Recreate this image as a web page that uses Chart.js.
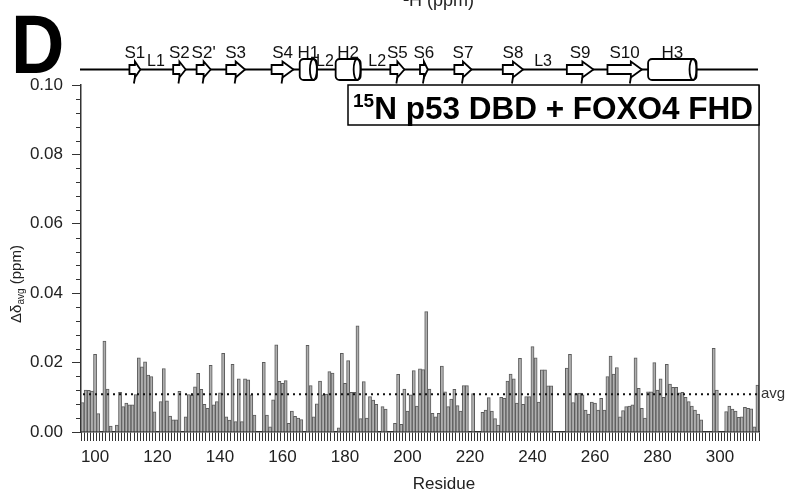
<!DOCTYPE html>
<html>
<head>
<meta charset="utf-8">
<title>15N p53 DBD + FOXO4 FHD</title>
<script src="https://cdn.jsdelivr.net/npm/chart.js@4.4.1/dist/chart.umd.min.js"></script>
<style>
  html, body { margin: 0; padding: 0; background: #fff; }
  canvas { display: block; }
</style>
</head>
<body>
<canvas id="cspChart" width="788" height="498"></canvas>
<script>
// Residue range shown on the x axis
const firstResidue = 96;
const lastResidue = 312;
const tickResidues = [100, 120, 140, 160, 180, 200, 220, 240, 260, 280, 300];

// Averaged chemical shift change per residue (ppm), null = no data
const shiftValues = [
  0.0085, 0.0121, 0.0120, 0.0118, 0.0224, 0.0053, null, 0.0262, 0.0124, 0.0017,   // 96-105
  null, 0.0020, 0.0114, 0.0073, 0.0083, 0.0078, 0.0078, 0.0108, 0.0214, 0.0188,   // 106-115
  0.0202, 0.0164, 0.0160, 0.0058, null, 0.0088, 0.0183, 0.0090, 0.0046, 0.0035,   // 116-125
  0.0035, 0.0117, null, 0.0044, 0.0108, 0.0106, 0.0130, 0.0169, 0.0123, 0.0080,   // 126-135
  0.0068, 0.0192, 0.0078, 0.0088, 0.0113, 0.0227, 0.0044, 0.0034, 0.0195, 0.0030,   // 136-145
  0.0153, 0.0030, 0.0153, 0.0150, 0.0107, 0.0049,                                   // 146-151
  null, null, 0.0201, 0.0049, 0.0015, 0.0093, 0.0251, 0.0146, 0.0140, 0.0148,       // 152-161
  0.0025, 0.0060, 0.0045, 0.0040, 0.0036, null,                                     // 162-167
  0.0250, 0.0134, 0.0044, 0.0081, 0.0147, 0.0107, 0.0109, 0.0174, 0.0170, null,     // 168-177
  0.0012, 0.0227, 0.0140, 0.0206, 0.0114, 0.0114, 0.0306, 0.0039, 0.0145, 0.0040,   // 178-187
  0.0102, 0.0092, 0.0080, null, 0.0073, 0.0066, null, null,                         // 188-195
  0.0025, 0.0166, 0.0022, 0.0124, 0.0060, 0.0107, 0.0177, 0.0075, 0.0182, 0.0180,   // 196-205
  0.0347, 0.0124, 0.0054, 0.0044, 0.0054, 0.0190, 0.0116, 0.0073, 0.0095, 0.0123,   // 206-215
  0.0076, 0.0060, 0.0134, 0.0134, null, 0.0111, null, null,                         // 216-223
  0.0057, 0.0063, 0.0099, 0.0060, 0.0039, 0.0020, 0.0100, 0.0097, 0.0147, 0.0167,   // 224-233
  0.0153, 0.0083, 0.0212, 0.0080, 0.0102, 0.0102, 0.0246, 0.0214, 0.0086, 0.0179,   // 234-243
  0.0179, 0.0133, 0.0133, null, null, null, null,                                   // 244-250
  0.0184, 0.0224, 0.0085, 0.0111, 0.0112, 0.0107, 0.0063, 0.0052, 0.0086, 0.0083,   // 251-260
  0.0063, 0.0097, 0.0063, 0.0160, 0.0219, 0.0167, 0.0186, 0.0044, 0.0062, 0.0073,   // 261-270
  0.0075, 0.0078, 0.0214, 0.0126, 0.0068, 0.0040, 0.0116, 0.0116, 0.0200, 0.0121,   // 271-280
  0.0153, 0.0100, 0.0195, 0.0138, 0.0129, 0.0129, 0.0113, 0.0114, 0.0100, 0.0088,   // 281-290
  0.0075, 0.0063, 0.0052, 0.0035, null, null, null, 0.0241, 0.0121, null,           // 291-300
  null, 0.0059, 0.0075, 0.0066, 0.0060, 0.0042, 0.0044, 0.0071, 0.0068, 0.0067,     // 301-310
  0.0015, 0.0135                                                                    // 311-312
];
const avgShift = 0.0109;

// Secondary structure of the DBD (residue spans)
const strands = [
  ['S1', 111, 114.5], ['S2', 125, 129], ["S2'", 132.5, 137], ['S3', 142, 148],
  ['S4', 156.5, 163.5], ['S5', 194.5, 199], ['S6', 204, 206.5], ['S7', 215, 220.5],
  ['S8', 230.5, 237], ['S9', 251, 259.5], ['S10', 264, 275]
];
const helices = [['H1', 165.5, 171], ['H2', 177, 185], ['H3', 277, 292.5]];
const loops = [['L1', 119.5], ['L2', 173.6], ['L2', 190.3], ['L3', 243.4]];

const residues = [];
for (let r = firstResidue; r <= lastResidue; r++) residues.push(r);

const FONT = "'Liberation Sans', Arial, sans-serif";
Chart.defaults.font.family = FONT;

function resX(chart, r) {
  return chart.scales.x.getPixelForValue(r - firstResidue);
}

function drawStrand(ctx, x1, x2, y) {
  const head = Math.min(11, (x2 - x1) * 0.5);
  const bh = 4.5, hh = 8;
  ctx.beginPath();
  ctx.moveTo(x1, y - bh);
  ctx.lineTo(x2 - head, y - bh);
  ctx.lineTo(x2 - head, y - hh);
  ctx.lineTo(x2, y);
  ctx.lineTo(x2 - head, y + hh);
  ctx.lineTo(x2 - head, y + bh);
  ctx.lineTo(x1, y + bh);
  ctx.closePath();
  ctx.fill();
  ctx.stroke();
  // back edge of the head runs down past the arrow
  ctx.beginPath();
  ctx.moveTo(x2 - head, y + hh);
  ctx.lineTo(x2 - head - 1, y + 14);
  ctx.stroke();
}

function drawHelix(ctx, x1, x2, y) {
  const h = 21, er = 3.5;
  ctx.beginPath();
  ctx.roundRect(x1, y - h / 2, x2 - x1, h, 4);
  ctx.fill();
  ctx.stroke();
  ctx.beginPath();
  ctx.ellipse(x2 - er, y, er, h / 2, 0, 0, Math.PI * 2);
  ctx.stroke();
}

const panelDecor = {
  id: 'panelDecor',
  beforeDraw(chart) {
    const ctx = chart.ctx;
    ctx.save();
    ctx.fillStyle = '#fff';
    ctx.fillRect(0, 0, chart.width, chart.height);
    ctx.restore();
  },
  afterDatasetsDraw(chart) {
    const { ctx, chartArea } = chart;
    const y = chart.scales.y.getPixelForValue(avgShift);
    ctx.save();
    ctx.strokeStyle = '#111';
    ctx.lineWidth = 2;
    ctx.setLineDash([2, 4]);
    ctx.beginPath();
    ctx.moveTo(chartArea.left + 2, y);
    ctx.lineTo(chartArea.right, y);
    ctx.stroke();
    ctx.restore();
  },
  afterDraw(chart) {
    const { ctx, chartArea } = chart;
    const yScale = chart.scales.y;
    ctx.save();

    // minor y ticks
    ctx.strokeStyle = '#333';
    ctx.lineWidth = 1;
    for (let i = 1; i < 25; i++) {
      if (i % 5 === 0) continue;
      const y = Math.round(yScale.getPixelForValue(i * 0.004)) + 0.5;
      ctx.beginPath();
      ctx.moveTo(chartArea.left - 5, y);
      ctx.lineTo(chartArea.left, y);
      ctx.stroke();
    }

    // right frame
    ctx.lineWidth = 1.5;
    ctx.beginPath();
    ctx.moveTo(chartArea.right, chartArea.top);
    ctx.lineTo(chartArea.right, chartArea.bottom);
    ctx.stroke();

    // avg label
    ctx.fillStyle = '#333';
    ctx.font = '15px ' + FONT;
    ctx.textAlign = 'left';
    ctx.textBaseline = 'alphabetic';
    ctx.fillText('avg', chartArea.right + 2, yScale.getPixelForValue(avgShift) + 4);

    // axis titles
    ctx.fillStyle = '#222';
    ctx.font = '17px ' + FONT;
    ctx.textAlign = 'center';
    ctx.fillText('Residue', 444, 489);

    ctx.save();
    ctx.translate(21, 284);
    ctx.rotate(-Math.PI / 2);
    ctx.textAlign = 'left';
    const p1 = '\u0394\u03b4', p3 = ' (ppm)';
    ctx.font = '15px ' + FONT;
    const w1 = ctx.measureText(p1).width, w3 = ctx.measureText(p3).width;
    ctx.font = '10px ' + FONT;
    const w2 = ctx.measureText('avg').width;
    const x0 = -(w1 + w2 + w3) / 2;
    ctx.font = '15px ' + FONT;
    ctx.fillText(p1, x0, 0);
    ctx.font = '10px ' + FONT;
    ctx.fillText('avg', x0 + w1, 3);
    ctx.font = '15px ' + FONT;
    ctx.fillText(p3, x0 + w1 + w2, 0);
    ctx.restore();

    // panel letter
    ctx.save();
    ctx.fillStyle = '#000';
    ctx.font = 'bold 84px ' + FONT;
    ctx.textAlign = 'left';
    ctx.translate(11, 73);
    ctx.scale(0.88, 1);
    ctx.fillText('D', 0, 0);
    ctx.restore();

    // cut-off axis title of the panel above
    ctx.fillStyle = '#222';
    ctx.font = '18px ' + FONT;
    ctx.textAlign = 'left';
    ctx.fillText('\u00b9H (ppm)', 403, 6);

    // title box
    const bx = 348, by = chartArea.top, bw = chartArea.right - 348, bh = 40;
    ctx.fillStyle = '#fff';
    ctx.fillRect(bx, by, bw, bh);
    ctx.strokeStyle = '#000';
    ctx.lineWidth = 1.5;
    ctx.strokeRect(bx, by, bw, bh);
    ctx.fillStyle = '#000';
    ctx.font = 'bold 19px ' + FONT;
    const supW = ctx.measureText('15').width;
    ctx.fillText('15', bx + 5, by + 22);
    ctx.font = 'bold 31.5px ' + FONT;
    ctx.fillText('N p53 DBD + FOXO4 FHD', bx + 5 + supW, by + 34);

    // secondary structure track
    const sy = 69.5;
    ctx.strokeStyle = '#000';
    ctx.lineWidth = 2;
    ctx.beginPath();
    ctx.moveTo(chartArea.left - 1, sy);
    ctx.lineTo(chartArea.right - 1, sy);
    ctx.stroke();
    ctx.fillStyle = '#fff';
    ctx.lineWidth = 1.8;
    strands.forEach(s => drawStrand(ctx, resX(chart, s[1]), resX(chart, s[2]), sy));
    helices.forEach(h => drawHelix(ctx, resX(chart, h[1]), resX(chart, h[2]), sy));

    ctx.fillStyle = '#111';
    ctx.textAlign = 'center';
    ctx.font = '17px ' + FONT;
    strands.concat(helices).forEach(e => {
      ctx.fillText(e[0], (resX(chart, e[1]) + resX(chart, e[2])) / 2, 58);
    });
    ctx.font = '16px ' + FONT;
    loops.forEach(l => ctx.fillText(l[0], resX(chart, l[1]), 66));

    ctx.restore();
  }
};

new Chart(document.getElementById('cspChart'), {
  type: 'bar',
  data: {
    labels: residues,
    datasets: [{
      data: shiftValues,
      backgroundColor: '#afafaf',
      borderColor: '#5c5c5c',
      borderWidth: 1,
      barPercentage: 1,
      categoryPercentage: 1
    }]
  },
  options: {
    responsive: false,
    animation: false,
    devicePixelRatio: 1,
    layout: { padding: { top: 85, right: 29, left: 0, bottom: 0 } },
    plugins: { legend: { display: false }, tooltip: { enabled: false } },
    scales: {
      x: {
        grid: { drawOnChartArea: false, tickLength: 9, color: '#333', lineWidth: 1 },
        border: { color: '#333', width: 1.5 },
        ticks: {
          autoSkip: false, maxRotation: 0, minRotation: 0, padding: 6,
          color: '#222', font: { size: 17 },
          callback: (v, i) => tickResidues.includes(residues[i]) ? String(residues[i]) : ''
        },
        afterFit: s => { s.height = 66; }
      },
      y: {
        min: 0, max: 0.1,
        grid: { drawOnChartArea: false, tickLength: 9, color: '#333', lineWidth: 1 },
        border: { color: '#333', width: 1.5 },
        ticks: { stepSize: 0.02, padding: 9, color: '#222', font: { size: 17 }, callback: v => v.toFixed(2) },
        afterFit: s => { s.width = 81; }
      }
    }
  },
  plugins: [panelDecor]
});
</script>
</body>
</html>
